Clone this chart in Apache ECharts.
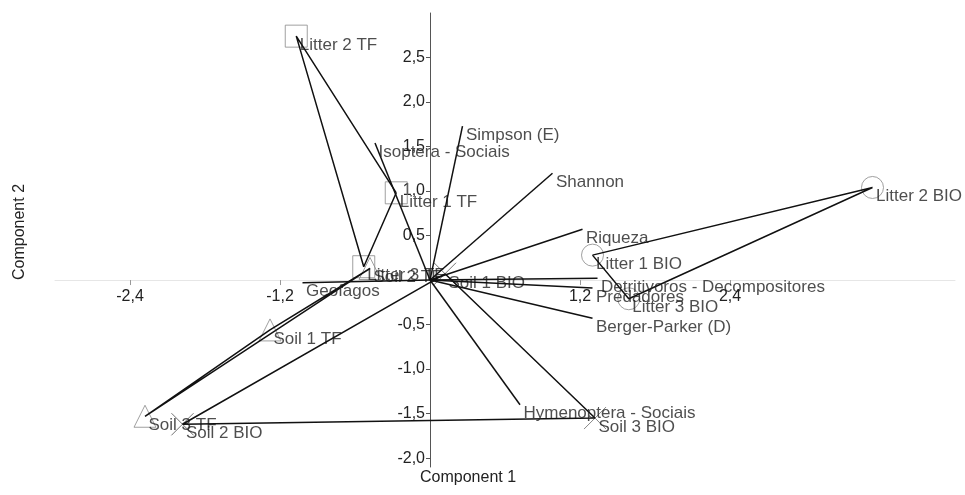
<!DOCTYPE html>
<html>
<head>
<meta charset="utf-8">
<script src="https://cdn.jsdelivr.net/npm/echarts@6/dist/echarts.min.js"></script>
<style>
    html, body { margin: 0; background: #fff; }
    #chart { width: 965px; height: 495px; }
</style>
</head>
<body>
<div id="chart"></div>
<script>
// sample scores (component 1, component 2)
var litterTF = ['Litter 1 TF', 'Litter 2 TF', 'Litter 3 TF'];
var litterTFx = [-0.27, -1.07, -0.53];
var litterTFy = [0.98, 2.74, 0.15];

var soilTF = ['Soil 1 TF', 'Soil 2 TF', 'Soil 3 TF'];
var soilTFx = [-1.28, -0.48, -2.28];
var soilTFy = [-0.56, 0.13, -1.53];

var litterBIO = ['Litter 1 BIO', 'Litter 2 BIO', 'Litter 3 BIO'];
var litterBIOx = [1.30, 3.54, 1.59];
var litterBIOy = [0.28, 1.04, -0.21];

var soilBIO = ['Soil 1 BIO', 'Soil 2 BIO', 'Soil 3 BIO'];
var soilBIOx = [0.12, -1.98, 1.32];
var soilBIOy = [0.07, -1.62, -1.55];

// variable loadings
var variables = ['Simpson (E)', 'Isoptera - Sociais', 'Shannon', 'Riqueza',
    'Detritivoros - Decompositores', 'Predadores', 'Berger-Parker (D)',
    'Hymenoptera - Sociais', 'Geofagos'];
var varX = [0.26, -0.44, 0.98, 1.22, 1.34, 1.30, 1.30, 0.72, -1.02];
var varY = [1.73, 1.54, 1.20, 0.57, 0.02, -0.09, -0.43, -1.40, -0.03];

var xTicks = [-2.4, -1.2, 1.2, 2.4];
var yTicks = [-2, -1.5, -1, -0.5, 0.5, 1, 1.5, 2, 2.5];

var FONT = 'Liberation Sans, Arial, sans-serif';
var LINE = { color: '#111', width: 1.5 };
var SIZE = 22;

// grid geometry, axes are shifted onto the zero lines with offset
var X_MIN = -3, X_MAX = 4.2, Y_MIN = -2.1, Y_MAX = 3.0;
var G_LEFT = 55, G_RIGHT = 10, G_TOP = 13, G_BOTTOM = 28;
var gw = 965 - G_LEFT - G_RIGHT, gh = 495 - G_TOP - G_BOTTOM;
var yOffset = -gw * (0 - X_MIN) / (X_MAX - X_MIN);
var xOffset = -gh * (0 - Y_MIN) / (Y_MAX - Y_MIN);

function pts(xs, ys) {
    return xs.map(function (x, i) { return [x, ys[i]]; });
}
function named(names, xs, ys) {
    return names.map(function (n, i) { return { name: n, value: [xs[i], ys[i]] }; });
}
function hull(xs, ys) {
    var p = pts(xs, ys);
    p.push(p[0]);
    return {
        type: 'line', data: p, symbol: 'none', silent: true, z: 3,
        lineStyle: LINE
    };
}
function markers(names, xs, ys, symbol) {
    return {
        type: 'scatter', data: named(names, xs, ys), symbol: symbol, symbolSize: SIZE,
        silent: true, z: 2,
        itemStyle: { color: 'rgba(0,0,0,0)', borderColor: '#888', borderWidth: 1 },
        label: {
            show: true, formatter: '{b}', position: 'right', distance: 0,
            offset: [3 - SIZE / 2, 9],
            fontFamily: FONT, fontSize: 17, color: '#222'
        }
    };
}
var comma = function (v) { return v.toFixed(1).replace('.', ','); };

var series = [
    hull(litterTFx, litterTFy),
    hull(soilTFx, soilTFy),
    hull(litterBIOx, litterBIOy),
    hull(soilBIOx, soilBIOy),
    markers(litterTF, litterTFx, litterTFy, 'rect'),
    markers(soilTF, soilTFx, soilTFy, 'triangle'),
    markers(litterBIO, litterBIOx, litterBIOy, 'circle'),
    markers(soilBIO, soilBIOx, soilBIOy, 'path://M0,0L5,5L10,0L5,5L10,10L5,5L0,10L5,5Z')
];
variables.forEach(function (v, i) {
    series.push({
        type: 'line', data: [[0, 0], [varX[i], varY[i]]], symbol: 'none',
        silent: true, z: 3, lineStyle: LINE
    });
});
series.push({
    type: 'scatter', data: named(variables, varX, varY), symbolSize: 1, silent: true, z: 4,
    itemStyle: { color: 'rgba(0,0,0,0)' },
    label: {
        show: true, formatter: '{b}', position: 'right', distance: 0, offset: [3, 9],
        fontFamily: FONT, fontSize: 17, color: '#222'
    }
});

var chart = echarts.init(document.getElementById('chart'));
chart.setOption({
    animation: false,
    grid: { left: G_LEFT, right: G_RIGHT, top: G_TOP, bottom: G_BOTTOM },
    xAxis: {
        type: 'value', min: X_MIN, max: X_MAX, position: 'bottom', offset: xOffset,
        axisLine: { onZero: false, lineStyle: { color: '#e6e6e6' } },
        axisTick: { show: true, customValues: xTicks, length: 5, lineStyle: { color: '#999' } },
        axisLabel: { customValues: xTicks, formatter: comma, margin: 9, fontFamily: FONT, fontSize: 16, color: '#222' },
        splitLine: { show: false }
    },
    yAxis: {
        type: 'value', min: Y_MIN, max: Y_MAX, position: 'left', offset: yOffset,
        axisLine: { onZero: false, lineStyle: { color: '#555' } },
        axisTick: { show: true, customValues: yTicks, length: 4, lineStyle: { color: '#555' } },
        axisLabel: { customValues: yTicks, formatter: comma, margin: 5, fontFamily: FONT, fontSize: 16, color: '#222' },
        splitLine: { show: false }
    },
    graphic: [
        { type: 'text', left: 420, top: 470, style: { text: 'Component 1', font: '16px ' + FONT, fill: '#222' } },
        { type: 'text', x: 12, y: 280, rotation: Math.PI / 2, style: { text: 'Component 2', font: '16px ' + FONT, fill: '#222' } }
    ],
    series: series
});
</script>
</body>
</html>
